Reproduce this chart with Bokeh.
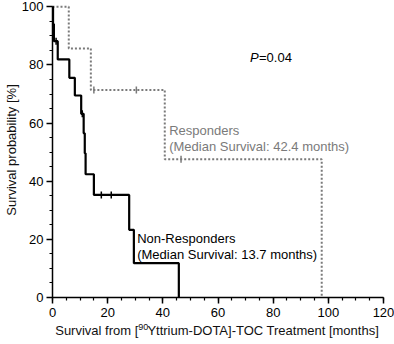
import numpy as np
from bokeh.plotting import figure
from bokeh.layouts import column
from bokeh.models import Range1d, Label, FixedTicker
from bokeh.core.properties import value
from bokeh.embed import file_html
from bokeh.resources import INLINE

# ---- data ----
resp_time = [0, 5.9, 13.9, 40.7, 97.6]
resp_surv = [100, 85.7, 71.4, 47.6, 0]
resp_cens_time = [15.0, 30.4, 46.6]
resp_cens_surv = [71.4, 71.4, 47.6]

nonresp_time = [0, 0.2, 0.5, 1.9, 6.1, 8.1, 10.4, 11.3, 11.7, 12.0, 15.0, 27.8, 29.5, 45.8]
nonresp_surv = [100, 94.1, 88.2, 81.9, 75.6, 69.5, 63.2, 56.5, 49.6, 42.4, 35.3, 23.3, 11.8, 0]
nonresp_cens_time = [1.3, 10.8, 17.7, 21.3]
nonresp_cens_surv = [88.2, 63.2, 35.3, 35.3]

x_ticks = [0, 20, 40, 60, 80, 100, 120]
x_minor = list(range(0, 121, 5))
y_ticks = [0, 20, 40, 60, 80, 100]
y_minor = list(range(0, 101, 5))

x_title_parts = ["Survival from [", "90", "Yttrium-DOTA]-TOC Treatment [months]"]
y_title = "Survival probability [%]"

FONT = "Liberation Sans"
GRAY = "#7a7a7a"
TXT = "#111111"

xr = Range1d(0, 120)
p = figure(width=394, height=322, x_range=xr, y_range=Range1d(0, 101.5),
           output_backend="svg", toolbar_location=None,
           min_border_left=51, min_border_right=11, min_border_top=2, min_border_bottom=25)
p.outline_line_color = None
p.xgrid.grid_line_color = None
p.ygrid.grid_line_color = None
p.background_fill_color = "white"
p.border_fill_color = "white"

p.xaxis.ticker = FixedTicker(ticks=x_ticks, minor_ticks=x_minor)
p.yaxis.ticker = FixedTicker(ticks=y_ticks, minor_ticks=y_minor)
p.yaxis.bounds = (0, 100)
for ax in (p.xaxis, p.yaxis):
    ax.axis_line_width = 1.5
    ax.axis_line_color = "black"
    ax.major_tick_line_width = 1.5
    ax.major_tick_line_color = "black"
    ax.minor_tick_line_width = 1.2
    ax.minor_tick_line_color = "black"
    ax.major_tick_in = 0
    ax.major_tick_out = 6
    ax.minor_tick_in = 0
    ax.minor_tick_out = 3
    ax.major_label_text_font = FONT
    ax.major_label_text_font_size = "13px"
    ax.major_label_text_color = "black"
p.xaxis.major_label_standoff = 4
p.yaxis.major_label_standoff = 3
p.yaxis.axis_label = y_title
p.yaxis.axis_label_text_font = FONT
p.yaxis.axis_label_text_font_size = "13px"
p.yaxis.axis_label_text_font_style = "normal"
p.yaxis.axis_label_text_color = TXT
p.yaxis.axis_label_standoff = 0

# curves
p.step(resp_time, resp_surv, mode="after", line_color=GRAY, line_width=2, line_dash="2 2")
p.step(nonresp_time, nonresp_surv, mode="after", line_color="black", line_width=2.2)

p.scatter(resp_cens_time, resp_cens_surv, marker="dash", angle=np.pi / 2, size=7,
          line_color=GRAY, line_width=1.5)
p.scatter(nonresp_cens_time, nonresp_cens_surv, marker="dash", angle=np.pi / 2, size=7,
          line_color="black", line_width=1.5)

# annotations
def lab(x, y, text, color="black", style="normal", xoff=0):
    p.add_layout(Label(x=x, y=y, text=text, text_font=FONT, text_font_size="13px",
                       text_color=color, text_font_style=style, text_baseline="middle",
                       text_align="left", x_offset=xoff))

lab(71.6, 82.6, "P", style="italic")
lab(71.6, 82.6, "=0.04", xoff=9)
lab(42.3, 57.3, "Responders", color=GRAY)
lab(42.3, 51.8, "(Median Survival: 42.4 months)", color=GRAY)
lab(30.7, 20.2, "Non-Responders")
lab(30.7, 14.7, "(Median Survival: 13.7 months)")

# x-axis title strip (shares the x scale; holds the superscript mass number)
t = figure(width=394, height=22, x_range=xr, y_range=Range1d(0, 22),
           output_backend="svg", toolbar_location=None,
           min_border_left=51, min_border_right=11, min_border_top=0, min_border_bottom=0)
t.axis.visible = False
t.xgrid.grid_line_color = None
t.ygrid.grid_line_color = None
t.outline_line_color = None
t.text(x=[31.1], y=[14], text=[x_title_parts[0]], text_font=value(FONT),
       text_font_size="13px", text_color=TXT, text_align="right", text_baseline="middle")
t.text(x=[31.1], y=[18], text=[x_title_parts[1]], text_font=value(FONT),
       text_font_size="9px", text_color=TXT, text_align="left", text_baseline="middle")
t.text(x=[34.4], y=[14], text=[x_title_parts[2]], text_font=value(FONT),
       text_font_size="13px", text_color=TXT, text_align="left", text_baseline="middle")

layout = column(p, t, spacing=0)
open("out.html", "w").write(file_html(layout, INLINE))
